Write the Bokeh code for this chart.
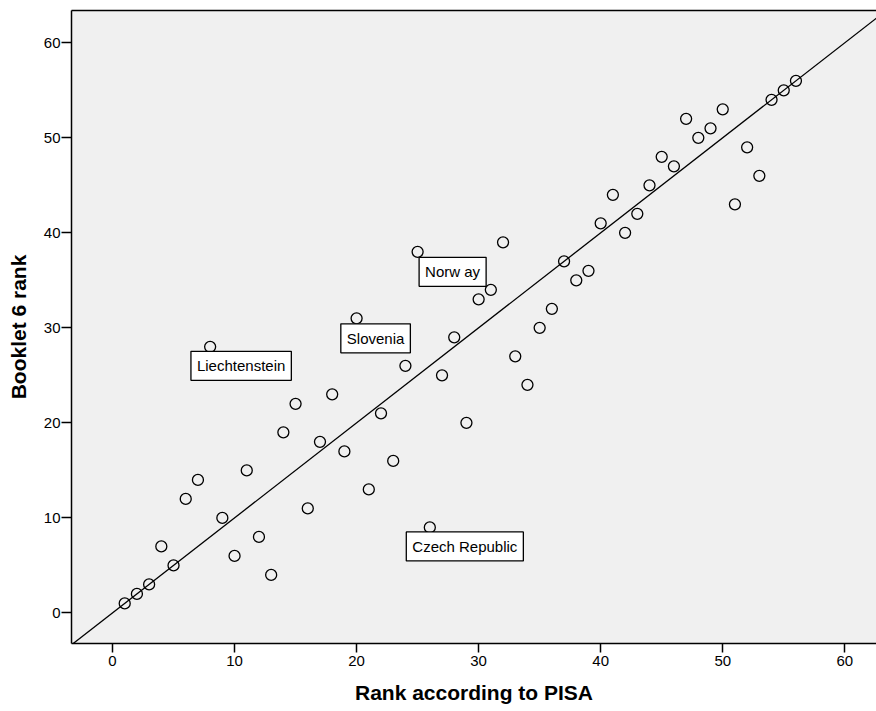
from bokeh.plotting import figure
from bokeh.models import Range1d, Slope, Label, LinearAxis, FixedTicker
from bokeh.embed import file_html
from bokeh.resources import INLINE

# Data
pisa_rank = [1, 2, 3, 4, 5, 6, 7, 8, 9, 10, 11, 12, 13, 14, 15, 16, 17, 18, 19, 20,
             21, 22, 23, 24, 25, 26, 27, 28, 29, 30, 31, 32, 33, 34, 35, 36, 37, 38, 39, 40,
             41, 42, 43, 44, 45, 46, 47, 48, 49, 50, 51, 52, 53, 54, 55, 56]
booklet6_rank = [1, 2, 3, 7, 5, 12, 14, 28, 10, 6, 15, 8, 4, 19, 22, 11, 18, 23, 17, 31,
                 13, 21, 16, 26, 38, 9, 25, 29, 20, 33, 34, 39, 27, 24, 30, 32, 37, 35, 36, 41,
                 44, 40, 42, 45, 48, 47, 52, 50, 51, 53, 43, 49, 46, 54, 55, 56]

label_names = ["Liechtenstein", "Slovenia", "Norw ay", "Czech Republic"]
label_x = [8, 20, 25, 26]
label_y = [28, 31, 38, 9]

x_ticks = [0, 10, 20, 30, 40, 50, 60]
y_ticks = [0, 10, 20, 30, 40, 50, 60]

# layout / style (not data)
label_dx = [31, 19, 35, 35]
label_dy = [-19, -20, -20, -19]
FONT = "Liberation Sans"

p = figure(width=876, height=711,
           x_range=Range1d(-3.36, 62.6), y_range=Range1d(-3.22, 63.4),
           output_backend="svg", toolbar_location=None,
           min_border_left=71, min_border_right=0, min_border_top=10, min_border_bottom=68)

p.background_fill_color = "#F0F0F0"
p.border_fill_color = "white"
p.outline_line_color = None
p.grid.visible = False

for ax, ticks, label in ((p.xaxis[0], x_ticks, "Rank according to PISA"),
                         (p.yaxis[0], y_ticks, "Booklet 6 rank")):
    ax.ticker = FixedTicker(ticks=ticks)
    ax.axis_label = label
    ax.axis_label_text_font = FONT
    ax.axis_label_text_font_style = "bold"
    ax.axis_label_text_font_size = "21px"
    ax.axis_label_text_color = "black"
    ax.major_label_text_font = FONT
    ax.major_label_text_font_size = "15px"
    ax.major_label_text_color = "black"
    ax.axis_line_color = "black"
    ax.axis_line_width = 1.5
    ax.major_tick_line_color = "black"
    ax.major_tick_line_width = 1.5
    ax.major_tick_in = 0
    ax.minor_tick_line_color = None

p.xaxis[0].major_tick_out = 9
p.xaxis[0].major_label_standoff = 3
p.xaxis[0].axis_label_standoff = 12
p.yaxis[0].major_tick_out = 10
p.yaxis[0].major_label_standoff = 1
p.yaxis[0].axis_label_standoff = 11

top = LinearAxis(ticker=FixedTicker(ticks=[]), axis_line_color="black", axis_line_width=1.5,
                 major_label_text_font_size="0px", major_tick_line_color=None,
                 minor_tick_line_color=None, major_label_standoff=0)
p.add_layout(top, "above")

p.add_layout(Slope(gradient=1, y_intercept=0, line_color="black", line_width=1.3))

p.scatter(pisa_rank, booklet6_rank, marker="circle", size=11, fill_color=None,
          line_color="black", line_width=1.3)

for name, lx, ly, dx, dy in zip(label_names, label_x, label_y, label_dx, label_dy):
    p.add_layout(Label(x=lx, y=ly, text=name, x_offset=dx, y_offset=dy,
                       text_align="center", text_baseline="middle",
                       text_font=FONT, text_font_size="15px", text_color="black",
                       background_fill_color="white", border_line_color="black",
                       border_line_width=1.3, padding=6))

open("out.html", "w").write(file_html(p, INLINE))
